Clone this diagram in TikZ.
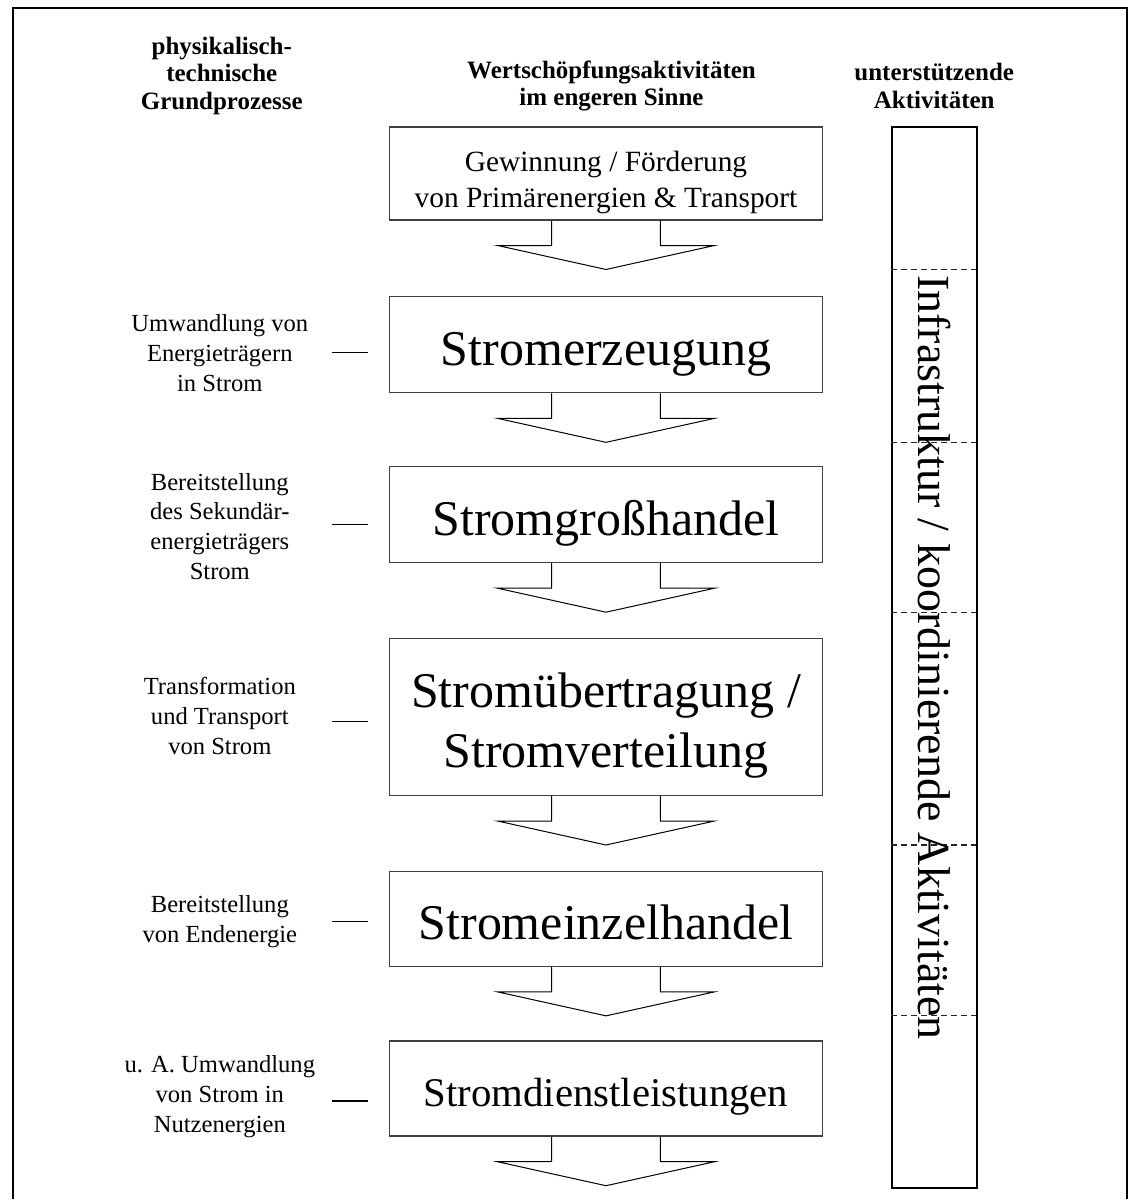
\documentclass[tikz,border=0pt]{standalone}
\usepackage{fontspec}
\setmainfont{Liberation Serif}
\begin{document}
\begin{tikzpicture}[x=0.5pt,y=-0.5pt,
  kasten/.style={draw=black!75,line width=0.7pt,minimum width=216.5pt,minimum height=47.5pt,inner sep=0pt,align=center},
  gross/.style={kasten,font=\fontsize{25}{30}\selectfont,text height=26pt,text depth=5.5pt},
  prozess/.style={align=center,font=\fontsize{12.3}{15}\selectfont},
  kopf/.style={align=center,font=\bfseries\fontsize{12.5}{13.75}\selectfont},
  pfeil/.style={black,line width=0.5pt},
  strich/.style={black,line width=0.6pt},
  trenn/.style={black!85,dash pattern=on 3pt off 2pt,line width=0.6pt}]
\fill[white] (0,0) rectangle (1135,1200);
\draw[line width=1pt] (13,1200) -- (13,8) -- (1128,8) -- (1128,1200);
% Spaltenkoepfe
\node[kopf] (kL) at (222,76) {physikalisch-\\technische\\Grundprozesse};
\node[kopf] (kM) at (612,86) {Wertschöpfungsaktivitäten\\im engeren Sinne};
\node[kopf] (kR) at (935,86) {unterstützende\\Aktivitäten};
% Wertschoepfungskette
\node[kasten,minimum height=46.5pt,font=\fontsize{14.7}{18}\selectfont,text height=37.7pt,text depth=3.2pt] (b1) at (606.5,173.5) {Gewinnung / Förderung\\von Primärenergien \& Transport};
\node[gross,minimum height=48pt] (b2) at (606.5,345) {Stromerzeugung};
\node[gross,minimum height=48pt] (b3) at (606.5,515) {Stromgroßhandel};
\node[gross,minimum height=78.5pt,text height=56pt] (b4) at (606.5,717.5) {Stromübertragung /\\Stromverteilung};
\node[gross] (b5) at (606.5,919.5) {Stromeinzelhandel};
\node[kasten,font=\fontsize{20.4}{24}\selectfont,text height=22pt,text depth=4.5pt] (b6) at (606.5,1089.5) {Stromdienstleistungen};
\foreach \b in {b1,b2,b3,b4,b5,b6}
  \draw[pfeil,shift={(\b.south)}] (-54.5,0) -- (-54.5,25) -- (-108.5,25) -- (0,49) -- (108.5,25) -- (54.5,25) -- (54.5,0);
% Grundprozesse
\node[prozess] (p2) at (220,353) {Umwandlung von\\Energieträgern\\in Strom};
\node[prozess] (p3) at (220,527) {Bereitstellung\\des Sekundär-\\energieträgers\\Strom};
\node[prozess] (p4) at (220,717) {Transformation\\und Transport\\von Strom};
\node[prozess] (p5) at (220,922) {Bereitstellung\\von Endenergie};
\node[prozess] (p6) at (220,1098) {u. A. Umwandlung\\von Strom in\\Nutzenergien};
\foreach \y in {353,525,722,922,1102}
  \draw[strich] (332,\y) -- (368,\y);
% unterstuetzende Aktivitaeten
\node[draw,line width=0.8pt,minimum width=42.5pt,minimum height=531pt,inner sep=0pt] (saeule) at (935.5,658) {};
\foreach \b in {b1,b2,b3,b4,b5}
  \draw[trenn] (saeule.west |- \b.south) ++(0,49) -- ++(85,0);
\node[rotate=-90,font=\fontsize{23}{27}\selectfont] (infra) at (saeule.center) {Infrastruktur / koordinierende Aktivitäten};
\end{tikzpicture}
\end{document}
